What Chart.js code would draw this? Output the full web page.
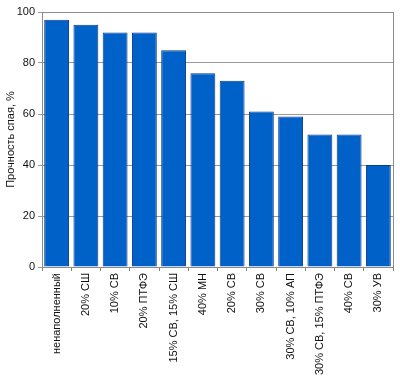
<!DOCTYPE html>
<html><head><meta charset="utf-8">
<script src="https://cdn.jsdelivr.net/npm/chart.js@4"></script>
<style>html,body{margin:0;padding:0;background:#fff}#w{width:400px;height:385px}</style>
</head><body><div id="w"><canvas id="c"></canvas></div>
<script>
const categories = ["ненаполненный","20% СШ","10% СВ","20% ПТФЭ","15% СВ, 15% СШ","40% МН","20% СВ","30% СВ","30% СВ, 10% АП","30% СВ, 15% ПТФЭ","40% СВ","30% УВ"];
const strength = [97,95,92,92,85,76,73,61,59,52,52,40];
const yTicks = [0,20,40,60,80,100];
const yTitle = "Прочность спая, %";

const frame = {id:'frame', afterDatasetsDraw(c){const a=c.chartArea,x=c.ctx;x.save();x.strokeStyle='#8c8c8c';x.lineWidth=1;x.strokeRect(Math.round(a.left)+0.5,Math.round(a.top)+0.5,Math.round(a.right-a.left),Math.round(a.bottom-a.top));x.restore();}};
new Chart(document.getElementById('c'),{
  type:'bar',
  data:{labels:categories,datasets:[{data:strength,backgroundColor:'#0062c8',borderColor:'#0a3a8c',borderWidth:1,barPercentage:0.85,categoryPercentage:1}]},
  options:{responsive:true,maintainAspectRatio:false,animation:false,
    layout:{padding:{top:12,right:7,left:4,bottom:0}},
    plugins:{legend:{display:false},tooltip:{enabled:false}},
    font:{family:'Liberation Sans'},
    scales:{
      x:{offset:true,grid:{offset:true,drawOnChartArea:false,tickLength:4,color:'#8c7c70'},border:{color:'#8c8c8c'},
        ticks:{minRotation:90,maxRotation:90,autoSkip:false,color:'#111',padding:2,font:{family:'Liberation Sans',size:11}},
        afterFit(s){s.height=118;}},
      y:{min:0,max:100,afterBuildTicks(s){s.ticks=yTicks.map(v=>({value:v}));},
        grid:{color:'#999',tickLength:4},border:{color:'#8c8c8c'},
        ticks:{color:'#111',padding:3,font:{family:'Liberation Sans',size:11}},
        title:{display:true,text:yTitle,color:'#111',font:{family:'Liberation Sans',size:11},padding:{top:0,bottom:4}},
        afterFit(s){s.width=38;}}
    }},
  plugins:[frame]
});
</script></body></html>
